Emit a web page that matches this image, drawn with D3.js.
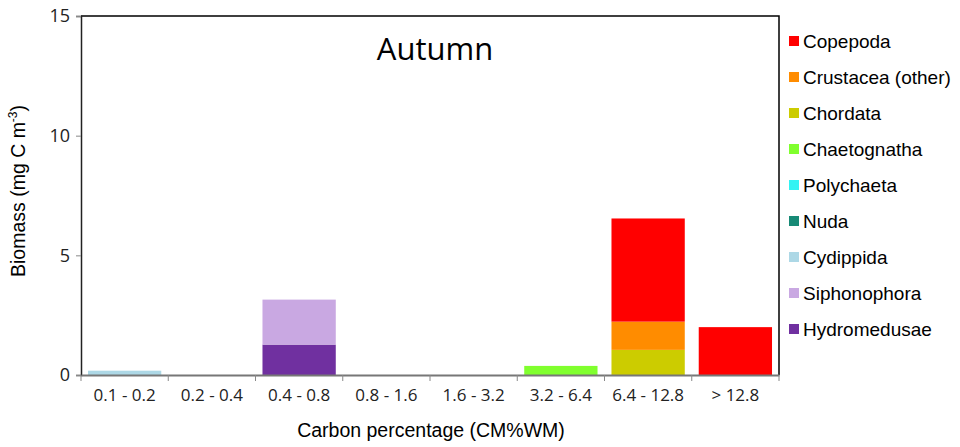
<!DOCTYPE html>
<html>
<head>
<meta charset="utf-8">
<script src="https://cdn.jsdelivr.net/npm/d3@7"></script>
<style>
  html, body { margin: 0; padding: 0; background: #fff; }
  svg { display: block; font-family: "Liberation Sans", Arial, sans-serif; }
</style>
</head>
<body>
<svg id="chart" width="960" height="447"></svg>
<script>
// Size classes on the x axis
const categories = ["0.1 - 0.2", "0.2 - 0.4", "0.4 - 0.8", "0.8 - 1.6", "1.6 - 3.2", "3.2 - 6.4", "6.4 - 12.8", "> 12.8"];

// Taxa, in legend order (top of stack first)
const taxa = ["Copepoda", "Crustacea (other)", "Chordata", "Chaetognatha", "Polychaeta", "Nuda", "Cydippida", "Siphonophora", "Hydromedusae"];
const taxaColors = ["#ff0000", "#ff8c00", "#cccc00", "#80ff2e", "#33f3f3", "#178a76", "#add8e6", "#c9a8e2", "#7030a0"];

// Biomass (mg C m-3) per taxon, one value per size class
const copepoda     = [0, 0, 0, 0, 0, 0, 4.31, 2.0];
const crustacea    = [0, 0, 0, 0, 0, 0, 1.18, 0];
const chordata     = [0, 0, 0, 0, 0, 0, 1.05, 0];
const chaetognatha = [0, 0, 0, 0, 0, 0.38, 0, 0];
const polychaeta   = [0, 0, 0, 0, 0, 0, 0, 0];
const nuda         = [0, 0, 0, 0, 0, 0, 0, 0];
const cydippida    = [0.18, 0, 0, 0, 0, 0, 0, 0];
const siphonophora = [0, 0, 1.88, 0, 0, 0, 0, 0];
const hydromedusae = [0, 0, 1.27, 0, 0, 0, 0, 0];

const yTicks = [0, 5, 10, 15];

const seriesValues = [copepoda, crustacea, chordata, chaetognatha, polychaeta, nuda, cydippida, siphonophora, hydromedusae];

// Build rows for d3.stack
const rows = categories.map((c, i) => {
  const r = { cat: c };
  taxa.forEach((t, k) => { r[t] = seriesValues[k][i]; });
  return r;
});

const margin = { left: 81, top: 16, right: 181, bottom: 72 };
const W = 960, H = 447;
const plotW = W - margin.left - margin.right;
const plotH = H - margin.top - margin.bottom;
const tickFont = "'Open Sans', 'Noto Sans', sans-serif";

const svg = d3.select("#chart");
const g = svg.append("g").attr("transform", `translate(${margin.left},${margin.top})`);

const x = d3.scaleBand().domain(categories).range([0, plotW]).paddingInner(0.16).paddingOuter(0.08);
const y = d3.scaleLinear().domain([0, 15]).range([plotH, 0]);
const color = d3.scaleOrdinal().domain(taxa).range(taxaColors);

// Stack from the bottom: Hydromedusae first
const stackKeys = taxa.slice().reverse();
const stacked = d3.stack().keys(stackKeys)(rows);

g.selectAll("g.layer").data(stacked).join("g")
  .attr("class", "layer")
  .attr("fill", d => color(d.key))
  .selectAll("rect").data(d => d.filter(p => p[1] - p[0] > 0)).join("rect")
  .attr("x", d => x(d.data.cat))
  .attr("width", x.bandwidth())
  .attr("y", d => y(d[1]))
  .attr("height", d => y(d[0]) - y(d[1]));

// Plot frame: top and right edges
g.append("path")
  .attr("d", `M0,0H${plotW}V${plotH}`)
  .attr("fill", "none").attr("stroke", "#000").attr("stroke-width", 1.5);

// Y axis
const yAxis = g.append("g").call(d3.axisLeft(y).tickValues(yTicks).tickSize(5).tickPadding(6));
yAxis.select(".domain").attr("stroke", "#222").attr("stroke-width", 1.5);
yAxis.selectAll(".tick line").attr("stroke", "#888");
yAxis.selectAll("text").attr("font-size", 18).attr("fill", "#222").attr("font-family", tickFont);

// X axis with ticks at category boundaries
const xAxis = g.append("g").attr("transform", `translate(0,${plotH})`)
  .call(d3.axisBottom(x).tickSize(0).tickPadding(14));
xAxis.select(".domain").attr("stroke", "#777").attr("stroke-width", 2);
xAxis.selectAll("text").attr("font-size", 17).attr("fill", "#222").attr("font-family", tickFont);
const step = x.step();
const boundary = i => (i === 0 ? 0 : (i === categories.length ? plotW : x(categories[i]) - (x.paddingInner() * step) / 2));
g.append("g").selectAll("line").data(d3.range(categories.length + 1)).join("line")
  .attr("x1", boundary).attr("x2", boundary)
  .attr("y1", plotH).attr("y2", plotH + 6)
  .attr("stroke", "#888");

// Title
svg.append("text")
  .attr("x", 435).attr("y", 60)
  .attr("text-anchor", "middle").attr("font-size", 31).attr("fill", "#000")
  .attr("font-family", tickFont)
  .text("Autumn");

// Axis titles
svg.append("text")
  .attr("x", 431).attr("y", 437)
  .attr("text-anchor", "middle").attr("font-size", 19.5).attr("fill", "#000")
  .text("Carbon percentage (CM%WM)");

const yTitle = svg.append("text")
  .attr("transform", `translate(25,${191}) rotate(-90)`)
  .attr("text-anchor", "middle").attr("font-size", 19.5).attr("fill", "#000");
yTitle.append("tspan").text("Biomass (mg C m");
yTitle.append("tspan").attr("dy", -8).attr("font-size", 12).text("-3");
yTitle.append("tspan").attr("dy", 8).text(")");

// Legend
const legend = svg.append("g").attr("transform", "translate(789,41)");
const items = legend.selectAll("g").data(taxa).join("g")
  .attr("transform", (d, i) => `translate(0,${i * 36})`);
items.append("rect").attr("x", 0).attr("y", -5).attr("width", 10).attr("height", 10).attr("fill", d => color(d));
items.append("text").attr("x", 14).attr("y", 7).attr("font-size", 19).attr("fill", "#000").text(d => d);
</script>
</body>
</html>
